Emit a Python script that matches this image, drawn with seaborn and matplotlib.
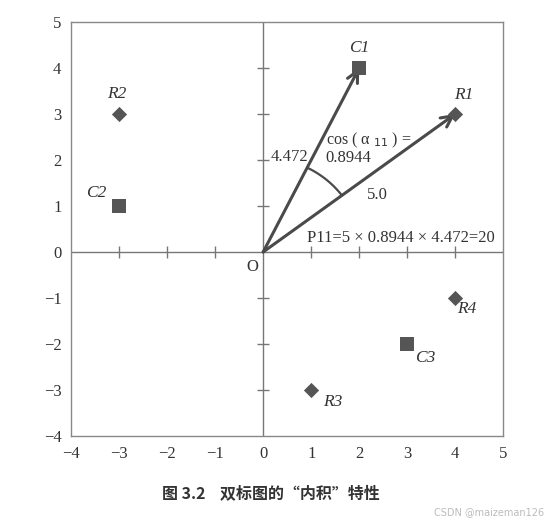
import numpy as np
import pandas as pd
import matplotlib
matplotlib.use("Agg")
import matplotlib.pyplot as plt
import seaborn as sns

# ---- data ----
row_names = ["R1", "R2", "R3", "R4"]
row_x = [4, -3, 1, 4]
row_y = [3, 3, -3, -1]
col_names = ["C1", "C2", "C3"]
col_x = [2, -3, 3]
col_y = [4, 1, -2]
x_ticks = [-4, -3, -2, -1, 0, 1, 2, 3, 4, 5]
y_ticks = [-4, -3, -2, -1, 0, 1, 2, 3, 4, 5]
len_c1 = "4.472"
len_r1 = "5.0"
cos_text = "cos ( α $_{11}$ ) ="
cos_val = "0.8944"
p11_text = "P11=5 × 0.8944 × 4.472=20"
caption = "图 3.2    双标图的“内积”特性"
watermark = "CSDN @maizeman126"

sns.set_theme(style="white")
plt.rcParams['font.family'] = ['Liberation Serif', 'Noto Sans CJK SC', 'DejaVu Sans']

df = pd.DataFrame({
    "x": row_x + col_x,
    "y": row_y + col_y,
    "name": row_names + col_names,
    "kind": ["row"] * len(row_names) + ["col"] * len(col_names),
})

fig = plt.figure(figsize=(5.47, 5.24), dpi=100)
ax = fig.add_axes([0.130, 0.168, 0.790, 0.790])

gray = "#555555"
sns.scatterplot(data=df[df.kind == "row"], x="x", y="y", marker="D", s=60,
                color=gray, edgecolor=gray, linewidth=0, ax=ax, zorder=4)
sns.scatterplot(data=df[df.kind == "col"], x="x", y="y", marker="s", s=100,
                color=gray, edgecolor=gray, linewidth=0, ax=ax, zorder=4)

ax.set_xlim(x_ticks[0], x_ticks[-1])
ax.set_ylim(y_ticks[0], y_ticks[-1])
ax.set_xticks(x_ticks)
ax.set_yticks(y_ticks)
ax.set_xlabel("")
ax.set_ylabel("")
ax.tick_params(length=0, labelsize=12, colors="#333333", pad=7)
for sp in ax.spines.values():
    sp.set_color("#888888")
    sp.set_linewidth(1.0)

# centre axes lines with cross ticks
ax.axhline(0, color="#777777", lw=1.0, zorder=1)
ax.axvline(0, color="#777777", lw=1.0, zorder=1)
inner_x = [t for t in x_ticks[1:-1] if t != 0]
inner_y = [t for t in y_ticks[1:-1] if t != 0]
ax.scatter(inner_x, [0] * len(inner_x), marker="|", s=70, color="#777777", linewidths=1.0, zorder=2)
ax.scatter([0] * len(inner_y), inner_y, marker="_", s=70, color="#777777", linewidths=1.0, zorder=2)

# vectors
for nm in ["C1", "R1"]:
    r = df[df.name == nm].iloc[0]
    ax.annotate("", xy=(r.x, r.y), xytext=(0, 0),
                arrowprops=dict(arrowstyle="->", lw=2.2, color="#4a4a4a",
                                mutation_scale=20, shrinkA=0, shrinkB=0), zorder=3)

# angle arc
c1 = df[df.name == "C1"].iloc[0]
r1 = df[df.name == "R1"].iloc[0]
a1 = np.arctan2(r1.y, r1.x)
a2 = np.arctan2(c1.y, c1.x)
th = np.linspace(a1, a2, 60)
rad = 2.05
ax.plot(rad * np.cos(th), rad * np.sin(th), color="#4a4a4a", lw=1.6, zorder=3)

# labels
lab_kw = dict(fontsize=12.5, style="italic", color="#333333", ha="center", va="center")
offsets = {"R1": (0.17, 0.41), "R2": (-0.04, 0.43), "R3": (0.44, -0.26), "R4": (0.25, -0.24),
           "C1": (0.0, 0.44), "C2": (-0.48, 0.28), "C3": (0.37, -0.30)}
for _, r in df.iterrows():
    dx, dy = offsets[r["name"]]
    ax.text(r.x + dx, r.y + dy, r["name"], **lab_kw)

txt_kw = dict(fontsize=12, color="#333333")
ax.text(-0.23, -0.33, "O", ha="center", va="center", **txt_kw)
ax.text(0.55, 2.07, len_c1, ha="center", va="center", **txt_kw)
ax.text(1.30, 2.43, cos_text, ha="left", va="center", fontsize=11.5, color="#333333")
ax.text(1.30, 2.05, cos_val, ha="left", va="center", **txt_kw)
ax.text(2.37, 1.24, len_r1, ha="center", va="center", **txt_kw)
ax.text(0.92, 0.30, p11_text, ha="left", va="center", **txt_kw)

fig.text(0.495, 0.059, caption, ha="center", va="center", fontsize=11.5,
         color="#333333", family=["Noto Sans CJK SC", "DejaVu Sans"], fontweight="bold")
fig.text(0.995, 0.022, watermark, ha="right", va="center", fontsize=7,
         color="#bbbbbb", family=["DejaVu Sans"])

fig.savefig("out.png", dpi=100)
